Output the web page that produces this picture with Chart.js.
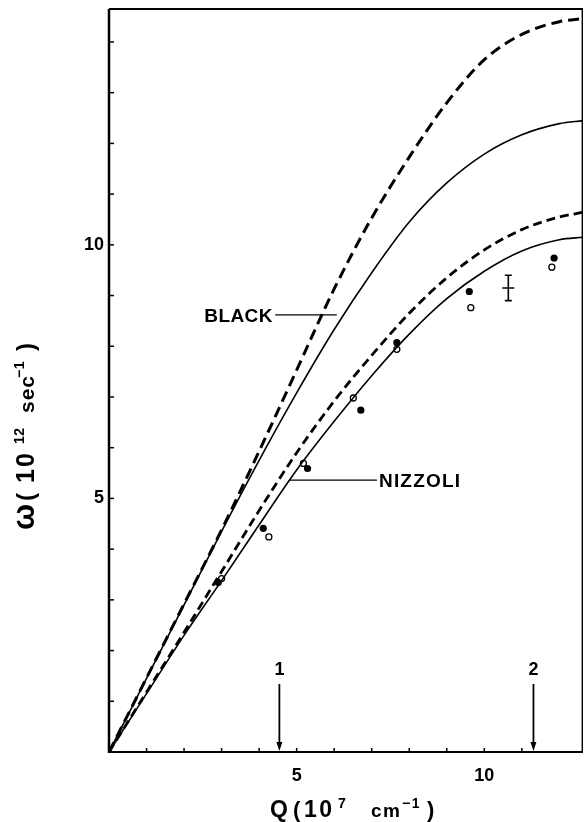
<!DOCTYPE html>
<html>
<head>
<meta charset="utf-8">
<script src="https://cdn.jsdelivr.net/npm/chart.js@4.4.1/dist/chart.umd.min.js"></script>
<style>
  html, body { margin: 0; padding: 0; background: #fff; }
  #wrap { width: 584px; height: 822px; position: relative; }
</style>
</head>
<body>
<div id="wrap"><canvas id="chart"></canvas></div>
<script>
// Q in 10^7 cm^-1, omega in 10^12 sec^-1
var blackDashQ = [0, 1, 2, 3, 4, 5, 6, 7, 8, 9, 10, 11, 12, 12.63];
var blackDashW = [0, 1.46, 2.92, 4.38, 5.93, 7.53, 9.13, 10.53, 11.73, 12.8, 13.65, 14.15, 14.4, 14.46];

var blackQ = [0, 1, 2, 3, 4, 5, 6, 7, 8, 9, 10, 11, 12, 12.63];
var blackW = [0, 1.45, 2.9, 4.35, 5.75, 7.08, 8.33, 9.45, 10.45, 11.22, 11.79, 12.17, 12.39, 12.45];

var nizDashQ = [0, 1, 2, 3, 4, 5, 6, 7, 8, 9, 10, 11, 12, 12.63];
var nizDashW = [0, 1.18, 2.36, 3.56, 4.76, 5.9, 6.92, 7.82, 8.65, 9.35, 9.9, 10.3, 10.55, 10.64];

var nizQ = [0, 1, 2, 3, 4, 5, 6, 7, 8, 9, 10, 11, 12, 12.63];
var nizW = [0, 1.15, 2.3, 3.38, 4.48, 5.56, 6.52, 7.42, 8.24, 8.94, 9.48, 9.88, 10.1, 10.15];

// measured points
var fullQ = [2.91, 4.11, 5.29, 6.71, 7.67, 9.6, 11.86];
var fullW = [3.34, 4.41, 5.59, 6.74, 8.07, 9.08, 9.74];
var openQ = [3.0, 4.26, 5.18, 6.51, 7.67, 9.64, 11.8];
var openW = [3.42, 4.24, 5.69, 6.98, 7.94, 8.76, 9.56];

// typical error bar
var errQ = 10.64, errW = 9.15, errDQ = 0.16, errDW = 0.25;

// arrows 1 and 2 on the Q axis
var arrowQ = [4.54, 11.31];
var arrowText = ['1', '2'];

var fontName = '"Liberation Sans", Arial, sans-serif';

function pts(q, w) {
    var arr = [];
    for (var i = 0; i < q.length; i++) arr.push({x: q[i], y: w[i]});
    return arr;
}

// parts: [text, size, rise, offset from start, letter gap]
function drawParts(ctx, parts, x, y) {
    parts.forEach(function(p) {
        ctx.font = 'bold ' + p[1] + 'px ' + fontName;
        var cx = x + p[3];
        for (var i = 0; i < p[0].length; i++) {
            ctx.fillText(p[0][i], cx, y - p[2]);
            cx += ctx.measureText(p[0][i]).width + p[4];
        }
    });
}

function spaced(ctx, txt, size, x, y, gap) {
    drawParts(ctx, [[txt, size, 0, 0, gap]], x, y);
}

var extras = {
    id: 'extras',
    afterDatasetsDraw: function(chart) {
        var ctx = chart.ctx, a = chart.chartArea;
        var xs = chart.scales.x, ys = chart.scales.y;
        ctx.save();
        ctx.strokeStyle = '#000';
        ctx.fillStyle = '#000';
        ctx.lineCap = 'butt';

        // frame
        ctx.lineWidth = 2.5;
        ctx.beginPath(); ctx.moveTo(a.left, a.top); ctx.lineTo(a.left, a.bottom + 1); ctx.stroke();
        ctx.lineWidth = 2;
        ctx.beginPath(); ctx.moveTo(a.left, a.bottom); ctx.lineTo(a.right, a.bottom); ctx.stroke();
        ctx.beginPath(); ctx.moveTo(a.left, a.top); ctx.lineTo(a.right, a.top); ctx.stroke();
        ctx.lineWidth = 1.4;
        ctx.beginPath(); ctx.moveTo(a.right - 0.7, a.top); ctx.lineTo(a.right - 0.7, a.bottom); ctx.stroke();

        // inward ticks
        ctx.lineWidth = 1.5;
        xs.ticks.forEach(function(t) {
            if (t.value <= 0 || t.value % 1 !== 0) return;
            var px = xs.getPixelForValue(t.value);
            ctx.beginPath(); ctx.moveTo(px, a.bottom); ctx.lineTo(px, a.bottom - 4); ctx.stroke();
        });
        ys.ticks.forEach(function(t) {
            if (t.value <= 0 || t.value % 1 !== 0) return;
            var py = ys.getPixelForValue(t.value);
            ctx.beginPath(); ctx.moveTo(a.left, py); ctx.lineTo(a.left + 5, py); ctx.stroke();
        });

        // error bar
        ctx.lineWidth = 1.6;
        var ex = xs.getPixelForValue(errQ), ey = ys.getPixelForValue(errW);
        var eyT = ys.getPixelForValue(errW + errDW), eyB = ys.getPixelForValue(errW - errDW);
        var exL = xs.getPixelForValue(errQ - errDQ), exR = xs.getPixelForValue(errQ + errDQ);
        ctx.beginPath();
        ctx.moveTo(ex, eyT); ctx.lineTo(ex, eyB);
        ctx.moveTo(ex - 3.5, eyT); ctx.lineTo(ex + 3.5, eyT);
        ctx.moveTo(ex - 3.5, eyB); ctx.lineTo(ex + 3.5, eyB);
        ctx.moveTo(exL, ey); ctx.lineTo(exR, ey);
        ctx.stroke();

        // curve labels with leader lines
        ctx.lineWidth = 1.3;
        ctx.textBaseline = 'alphabetic';
        ctx.textAlign = 'left';
        var by = ys.getPixelForValue(8.62);
        var b0 = xs.getPixelForValue(4.43), b1 = xs.getPixelForValue(6.07);
        ctx.beginPath(); ctx.moveTo(b0, by); ctx.lineTo(b1, by); ctx.stroke();
        spaced(ctx, 'BLACK', 19, b0 - 71, by + 7, 0.4);
        var ny = ys.getPixelForValue(5.36);
        var n0 = xs.getPixelForValue(4.82), n1 = xs.getPixelForValue(7.14);
        ctx.beginPath(); ctx.moveTo(n0, ny); ctx.lineTo(n1, ny); ctx.stroke();
        spaced(ctx, 'NIZZOLI', 19, n1 + 2, ny + 7, 1.2);

        // arrows
        ctx.lineWidth = 1.8;
        for (var i = 0; i < arrowQ.length; i++) {
            var ax = xs.getPixelForValue(arrowQ[i]);
            var aTop = a.bottom - 68, aBot = a.bottom - 1;
            ctx.beginPath(); ctx.moveTo(ax, aTop); ctx.lineTo(ax, aBot - 6); ctx.stroke();
            ctx.beginPath(); ctx.moveTo(ax - 3, aBot - 9); ctx.lineTo(ax + 3, aBot - 9); ctx.lineTo(ax, aBot); ctx.closePath(); ctx.fill();
            ctx.font = 'bold 18px ' + fontName;
            ctx.textAlign = 'center';
            ctx.fillText(arrowText[i], ax, a.bottom - 77);
        }

        // axis titles
        ctx.textAlign = 'left';
        drawParts(ctx, [
            ['Q', 23, 0, 0, 0],
            ['(', 22, 0, 23, 0],
            ['10', 23, 0, 34, 2.5],
            ['7', 14, 9, 68, 0],
            ['cm', 19, 0, 101, 1.5],
            ['\u22121', 14, 9, 132, 1.5],
            [')', 22, 0, 157, 0]
        ], 270, 817);
        ctx.save();
        ctx.translate(33.5, 530);
        ctx.rotate(-Math.PI / 2);
        drawParts(ctx, [
            ['\u03c9', 31, 0, 0, 0],
            ['(', 24, 0, 29, 0],
            ['10', 25, 0, 47, 2],
            ['12', 14, 10, 86, 0.5],
            ['sec', 21, 0, 117, 1],
            ['\u22121', 14, 10, 152, 0.5],
            [')', 24, 0, 179, 0]
        ], 0, 0);
        ctx.restore();

        ctx.restore();
    }
};

var tickFont = {family: fontName, weight: 'bold', size: 18};

new Chart(document.getElementById('chart'), {
    type: 'line',
    data: {
        datasets: [
            {data: pts(blackDashQ, blackDashW), borderColor: '#000', borderWidth: 3, borderDash: [11, 6], pointRadius: 0, cubicInterpolationMode: 'monotone', fill: false},
            {data: pts(blackQ, blackW), borderColor: '#000', borderWidth: 1.6, pointRadius: 0, cubicInterpolationMode: 'monotone', fill: false},
            {data: pts(nizDashQ, nizDashW), borderColor: '#000', borderWidth: 2.8, borderDash: [9, 5], pointRadius: 0, cubicInterpolationMode: 'monotone', fill: false},
            {data: pts(nizQ, nizW), borderColor: '#000', borderWidth: 1.6, pointRadius: 0, cubicInterpolationMode: 'monotone', fill: false},
            {type: 'scatter', data: pts(fullQ, fullW), showLine: false, pointRadius: 3.6, pointBackgroundColor: '#000', pointBorderColor: '#000', pointBorderWidth: 0},
            {type: 'scatter', data: pts(openQ, openW), showLine: false, pointRadius: 3, pointBackgroundColor: '#fff', pointBorderColor: '#000', pointBorderWidth: 1.3}
        ]
    },
    options: {
        responsive: true,
        maintainAspectRatio: false,
        animation: false,
        layout: {autoPadding: false, padding: {top: 9, right: 1, left: 0, bottom: 0}},
        plugins: {legend: {display: false}, tooltip: {enabled: false}},
        scales: {
            x: {
                type: 'linear', min: 0, max: 12.63,
                afterFit: function(s) { s.height = 70; s.paddingLeft = 0; s.paddingRight = 0; },
                grid: {display: false, drawTicks: false},
                border: {display: false},
                ticks: {stepSize: 1, autoSkip: false, maxRotation: 0, padding: 13, color: '#000', font: tickFont,
                    callback: function(v) { return (v === 5 || v === 10) ? String(v) : ''; }}
            },
            y: {
                type: 'linear', min: 0, max: 14.65,
                afterFit: function(s) { s.width = 109; s.paddingTop = 0; s.paddingBottom = 0; },
                grid: {display: false, drawTicks: false},
                border: {display: false},
                ticks: {stepSize: 1, autoSkip: false, padding: 5, color: '#000', font: tickFont,
                    callback: function(v) { return (v === 5 || v === 10) ? String(v) : ''; }}
            }
        }
    },
    plugins: [extras]
});
</script>
</body>
</html>
